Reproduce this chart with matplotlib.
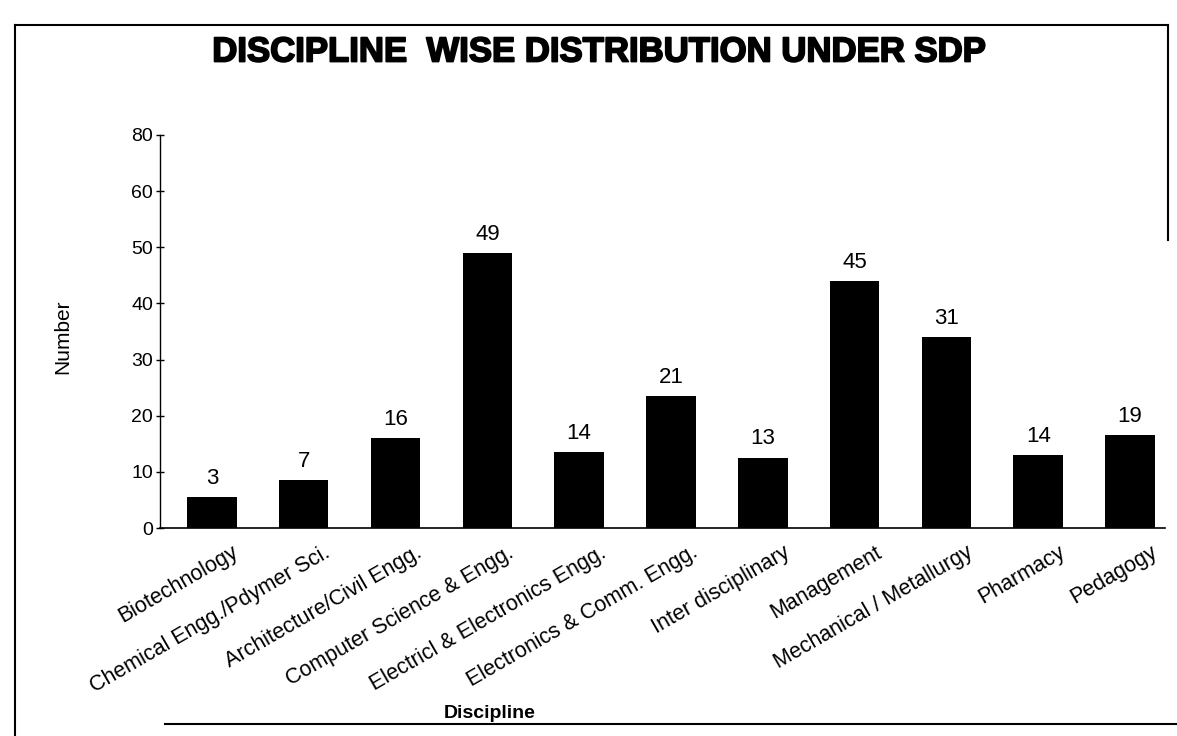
import numpy as np
import matplotlib
matplotlib.use("Agg")
import matplotlib.pyplot as plt
import matplotlib.transforms as mtransforms
import matplotlib.patheffects as pe
from matplotlib.lines import Line2D

plt.rcParams['font.family'] = ['Liberation Sans', 'DejaVu Sans']

# data
disciplines = ["Biotechnology", "Chemical Engg./Pdymer Sci.", "Architecture/Civil Engg.",
               "Computer Science & Engg.", "Electricl & Electronics Engg.",
               "Electronics & Comm. Engg.", "Inter disciplinary", "Management",
               "Mechanical / Metallurgy", "Pharmacy", "Pedagogy"]
counts = [3, 7, 16, 49, 14, 21, 13, 45, 31, 14, 19]          # printed labels
bar_heights = [5.5, 8.5, 16, 49, 13.5, 23.5, 12.5, 44, 34, 13, 16.5]  # as drawn
ytick_pos = [0, 10, 20, 30, 40, 50, 60, 70]
ytick_labels = ["0", "10", "20", "30", "40", "50", "60", "80"]

fig = plt.figure(figsize=(11.77, 7.36), dpi=100)
ax = fig.add_axes([0.1359, 0.2826, 0.8539, 0.534])

x = np.arange(len(disciplines))
bars = ax.bar(x, bar_heights, width=0.54, color="black")
for b, c in zip(bars, counts):
    ax.annotate(str(c), (b.get_x() + b.get_width() / 2, b.get_height()),
                xytext=(0, 6), textcoords="offset points",
                ha="center", va="bottom", fontsize=16)

ax.set_xlim(-0.565, 10.38)
ax.set_ylim(0, 70)
ax.set_yticks(ytick_pos)
ax.set_yticklabels(ytick_labels, fontsize=14)
ax.tick_params(axis="y", direction="inout", length=6, width=1, pad=2)
ax.set_xticks(x)
ax.set_xticklabels(disciplines, rotation=30, ha="right", rotation_mode="anchor", fontsize=15.5)
ax.tick_params(axis="x", length=0, pad=10)
shift = mtransforms.ScaledTranslation(20 / 100, 0, fig.dpi_scale_trans)
for lab in ax.get_xticklabels():
    lab.set_transform(lab.get_transform() + shift)

for s in ["top", "right"]:
    ax.spines[s].set_visible(False)
ax.spines["left"].set_linewidth(1)
ax.spines["bottom"].set_linewidth(1.2)

ax.set_ylabel("Number", fontsize=15)
ax.yaxis.set_label_coords(-0.0876, 0.486)
ax.set_xlabel("Discipline", fontsize=14, fontweight="bold")
ax.xaxis.set_label_coords(0.328, -0.45)

fig.text(0.51, 1 - 52 / 736, "DISCIPLINE  WISE DISTRIBUTION UNDER SDP",
         ha="center", va="center", fontsize=25, fontweight="heavy",
         path_effects=[pe.withStroke(linewidth=1.3, foreground="black")])

# outer frame of the scanned page
fig.add_artist(Line2D([0.013, 0.013], [0.0, 0.966], color="black", lw=1.5))
fig.add_artist(Line2D([0.013, 0.992], [0.966, 0.966], color="black", lw=1.5))
fig.add_artist(Line2D([0.992, 0.992], [0.966, 0.674], color="black", lw=1.5))
fig.add_artist(Line2D([0.14, 1.0], [0.016, 0.016], color="black", lw=1.5))

fig.savefig("out.png", dpi=100)
